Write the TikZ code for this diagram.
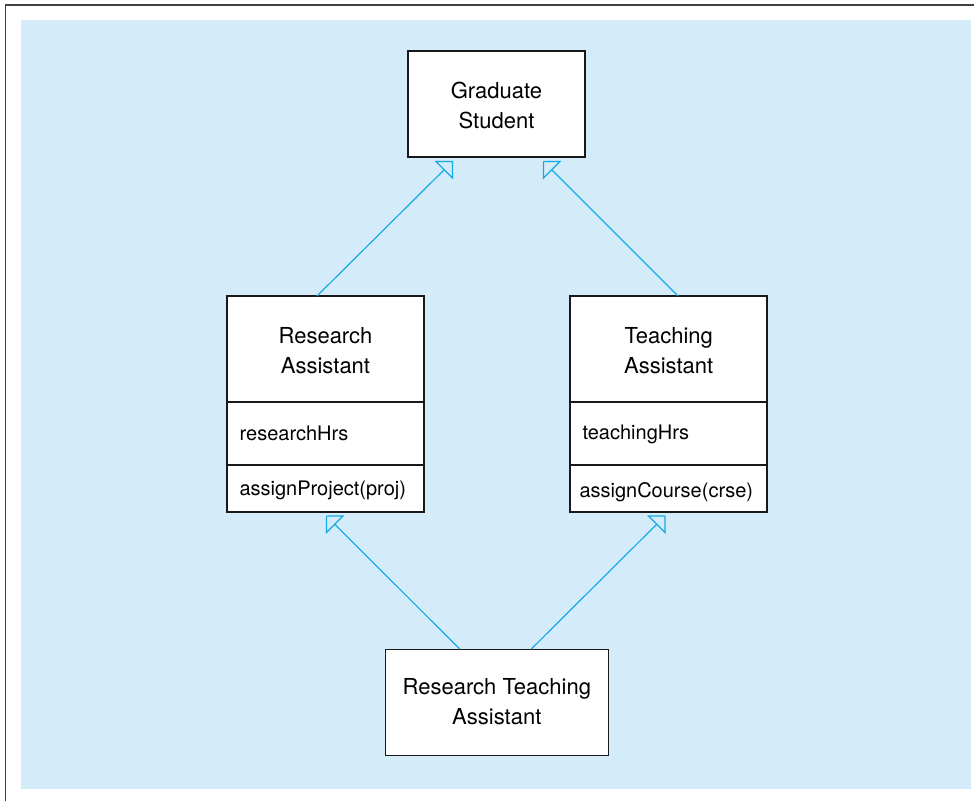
\documentclass[tikz,border=0pt]{standalone}
\usepackage{fontspec}
\setmainfont{TeX Gyre Heros}
\usetikzlibrary{arrows.meta}
\definecolor{bgblue}{RGB}{212,236,250}
\definecolor{linkblue}{RGB}{20,170,230}
\definecolor{framegray}{RGB}{64,64,64}
\begin{document}
\begin{tikzpicture}[x=1pt,y=-1pt,
  box/.style={draw=black!90, line width=1.4pt, fill=white, inner sep=0pt, outer sep=0pt, anchor=north west},
  title/.style={font=\fontsize{22}{30}\selectfont, align=center, inner sep=0pt},
  member/.style={font=\fontsize{20}{24}\selectfont, anchor=base west, inner sep=0pt},
  gen/.style={draw=linkblue, line width=1.2pt, -{Triangle[open, length=13pt, width=26pt]}}]
\useasboundingbox (0,0) rectangle (974,801);
% background and frame
\fill[bgblue] (21,20) rectangle (971,789);
\draw[framegray, line width=1.8pt] (5.5,801) -- (5.5,4.8) -- (974,4.8);

% Graduate Student
\node[box, minimum width=177pt, minimum height=106pt] (gs) at (408,51) {};
\node[title] (gs-t) at (496.5,105.3) {Graduate\\Student};

% Research Assistant
\node[box, minimum width=197pt, minimum height=106pt] (ra-name) at (227,296) {};
\node[box, minimum width=197pt, minimum height=63pt] (ra-attr) at (227,402) {};
\node[box, minimum width=197pt, minimum height=47pt] (ra-op) at (227,465) {};
\node[title] (ra-t) at (325.5,350.3) {Research\\Assistant};
\node[member] (ra-a) at (239.5,440) {researchHrs};
\node[member] (ra-m) at (239.3,495.7) {assignProject(proj)};

% Teaching Assistant
\node[box, minimum width=197pt, minimum height=106pt] (ta-name) at (570,296) {};
\node[box, minimum width=197pt, minimum height=63pt] (ta-attr) at (570,402) {};
\node[box, minimum width=197pt, minimum height=47pt] (ta-op) at (570,465) {};
\node[title] (ta-t) at (668.7,350.3) {Teaching\\Assistant};
\node[member] (ta-a) at (582.4,439.3) {teachingHrs};
\node[member] (ta-m) at (579.3,497.3) {assignCourse(crse)};

% Research Teaching Assistant
\node[box, minimum width=223pt, minimum height=106pt] (rta) at (385.3,649.3) {};
\node[title] (rta-t) at (496.8,702) {Research Teaching\\Assistant};

% connector ends
\coordinate (ra-up) at (317,296);
\coordinate (ta-up) at (678,296);
\coordinate (gs-in-l) at (453,161);
\coordinate (gs-in-r) at (543,161);
\coordinate (rta-up-l) at (460,649.3);
\coordinate (rta-up-r) at (531,649.3);
\coordinate (ra-in) at (326,515.5);
\coordinate (ta-in) at (665.5,515.5);

\draw[gen] (ra-up) -- (gs-in-l);
\draw[gen] (ta-up) -- (gs-in-r);
\draw[gen] (rta-up-l) -- (ra-in);
\draw[gen] (rta-up-r) -- (ta-in);
\end{tikzpicture}
\end{document}
